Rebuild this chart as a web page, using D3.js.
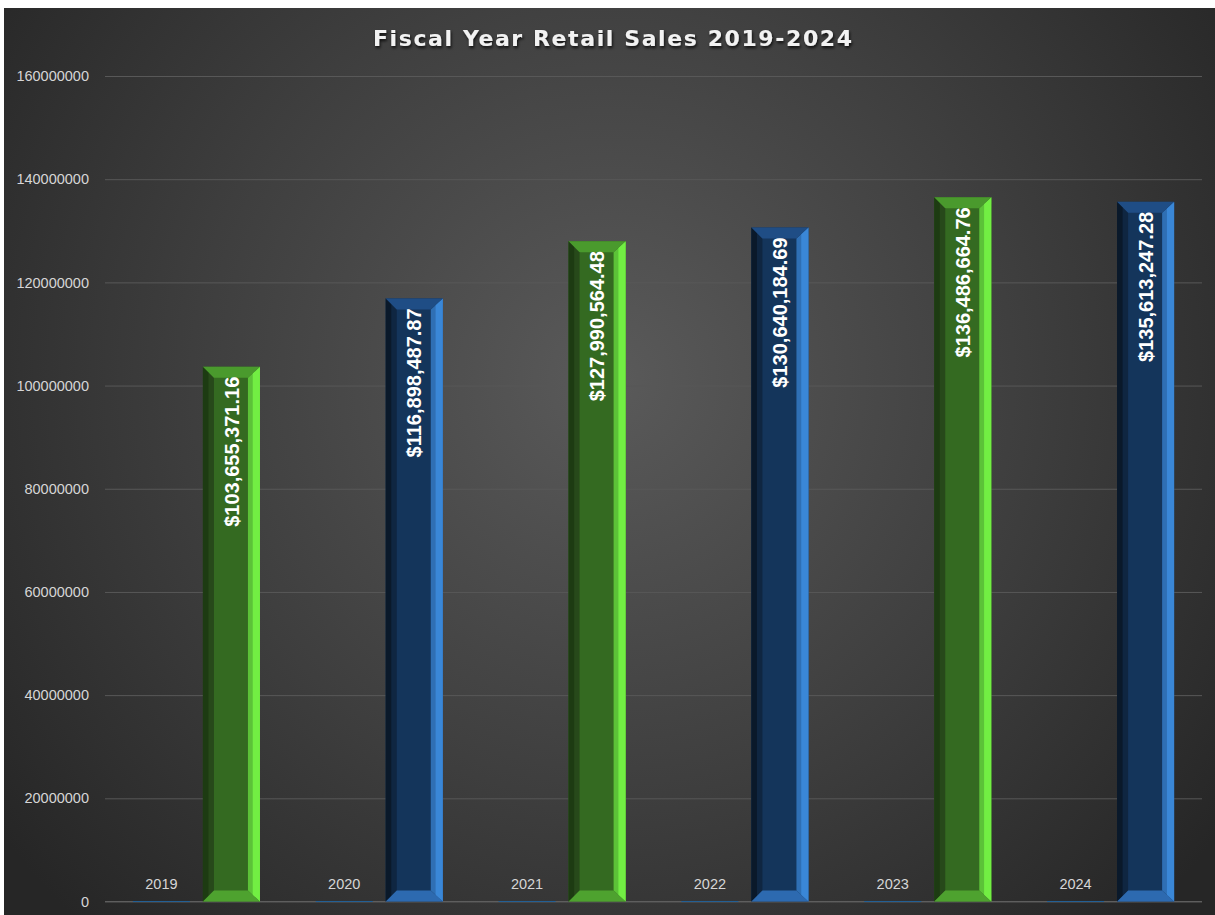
<!DOCTYPE html>
<html>
<head>
<meta charset="utf-8">
<script src="https://cdn.jsdelivr.net/npm/d3@7"></script>
<style>
  html, body { margin: 0; padding: 0; background: #fff; }
  svg { display: block; }
</style>
</head>
<body>
<svg id="chart"></svg>
<script>
const years = ["2019", "2020", "2021", "2022", "2023", "2024"];
const yearValues = [2019, 2020, 2021, 2022, 2023, 2024];
const salesValues = [103655371.16, 116898487.87, 127990564.48, 130640184.69, 136486664.76, 135613247.28];
const yTicks = [0, 20000000, 40000000, 60000000, 80000000, 100000000, 120000000, 140000000, 160000000];
const titleText = "Fiscal Year Retail Sales 2019-2024";

const width = 1215, height = 915;
const margin = { top: 76, right: 13, bottom: 13, left: 105 };
const font = "'Liberation Sans', Arial, Helvetica, sans-serif";

const palettes = {
  green: { face: "#346a21", left: "#1d3b12", leftIn: "#27491a", right: "#72ee43", rightIn: "#5cc238", top: "#4a9a2d", bottom: "#4ea22f" },
  blue:  { face: "#14355b", left: "#0a192a", leftIn: "#0f2641", right: "#3a87d7", rightIn: "#2f6fb4", top: "#1f4d85", bottom: "#2d6ab0" }
};
const barColor = ["green", "blue", "green", "blue", "green", "blue"];

const svg = d3.select("#chart").attr("width", width).attr("height", height);
const defs = svg.append("defs");

const bg = defs.append("radialGradient").attr("id", "bg")
  .attr("gradientUnits", "userSpaceOnUse")
  .attr("cx", 610).attr("cy", 380).attr("r", 760);
bg.append("stop").attr("offset", "0%").attr("stop-color", "#5a5a5a");
bg.append("stop").attr("offset", "55%").attr("stop-color", "#3e3e3e");
bg.append("stop").attr("offset", "100%").attr("stop-color", "#262626");

const shadow = defs.append("filter").attr("id", "tshadow")
  .attr("x", "-10%").attr("y", "-50%").attr("width", "120%").attr("height", "200%");
shadow.append("feDropShadow").attr("dx", 1).attr("dy", 2).attr("stdDeviation", 1.5)
  .attr("flood-color", "#000").attr("flood-opacity", 0.8);

svg.append("rect").attr("x", 4).attr("y", 8)
  .attr("width", width - 4).attr("height", height - 8)
  .attr("fill", "url(#bg)");

const x0 = d3.scaleBand().domain(years)
  .range([margin.left, width - margin.right])
  .paddingInner(0.305).paddingOuter(0.1525);
const x1 = d3.scaleBand().domain(["year", "sales"])
  .range([0, x0.bandwidth()]).paddingInner(0.186).paddingOuter(0);
const y = d3.scaleLinear().domain([0, 160000000]).range([height - margin.bottom - 0.5, margin.top]);

// gridlines + tick labels
const yAxis = svg.append("g")
  .attr("transform", `translate(${margin.left},0)`)
  .call(d3.axisLeft(y).tickValues(yTicks).tickFormat(d3.format("d"))
    .tickSize(-(width - margin.left - margin.right)).tickPadding(16));
yAxis.select(".domain").remove();
yAxis.selectAll(".tick line").attr("stroke", "#585858").attr("stroke-width", 1);
yAxis.selectAll(".tick text")
  .attr("fill", "#d6d6d6")
  .style("font", `14.5px ${font}`);

// baseline
svg.append("line")
  .attr("x1", margin.left).attr("x2", width - margin.right)
  .attr("y1", y(0)).attr("y2", y(0))
  .attr("stroke", "#5e5e5e").attr("stroke-width", 1.2);

// year series (tiny bars near zero)
const yearG = svg.append("g");
yearG.selectAll("rect")
  .data(years.map((k, i) => ({ key: k, value: yearValues[i] })))
  .join("rect")
  .attr("x", d => x0(d.key) + x1("year"))
  .attr("y", d => y(d.value) - 0.5)
  .attr("width", x1.bandwidth())
  .attr("height", d => y(0) - y(d.value) + 1)
  .attr("fill", "#235f94");
yearG.selectAll("text")
  .data(years.map((k, i) => ({ key: k, value: yearValues[i] })))
  .join("text")
  .attr("x", d => x0(d.key) + x1("year") + x1.bandwidth() / 2)
  .attr("y", d => y(d.value) - 12)
  .attr("text-anchor", "middle")
  .attr("fill", "#d6d6d6")
  .style("font", `14.5px ${font}`)
  .text(d => d.value);

// sales series as bevelled bars
const bev = 11;
const salesData = years.map((k, i) => ({ key: k, value: salesValues[i], pal: palettes[barColor[i]] }));
const barG = svg.append("g").selectAll("g")
  .data(salesData)
  .join("g");

const poly = pts => "M" + pts.map(p => p.join(",")).join("L") + "Z";
barG.each(function (d) {
  const g = d3.select(this);
  const bx = x0(d.key) + x1("sales");
  const bw = x1.bandwidth();
  const top = y(d.value), bot = y(0);
  const L = bx, R = bx + bw, bL = 11, bR = 12;
  const p = d.pal;
  g.append("rect").attr("x", L).attr("y", top).attr("width", bw).attr("height", bot - top).attr("fill", p.face);
  // left side
  g.append("path").attr("fill", p.leftIn)
    .attr("d", poly([[L, top], [L + bL, top + bev], [L + bL, bot - bev], [L, bot]]));
  g.append("path").attr("fill", p.left)
    .attr("d", poly([[L, top], [L + bL * 0.5, top + bev * 0.5], [L + bL * 0.5, bot - bev * 0.5], [L, bot]]));
  // right side
  g.append("path").attr("fill", p.rightIn)
    .attr("d", poly([[R, top], [R - bR, top + bev], [R - bR, bot - bev], [R, bot]]));
  g.append("path").attr("fill", p.right)
    .attr("d", poly([[R, top], [R - bR * 0.6, top + bev * 0.6], [R - bR * 0.6, bot - bev * 0.6], [R, bot]]));
  // top and bottom
  g.append("path").attr("fill", p.top)
    .attr("d", poly([[L, top], [R, top], [R - bR, top + bev], [L + bL, top + bev]]));
  g.append("path").attr("fill", p.bottom)
    .attr("d", poly([[L, bot], [R, bot], [R - bR, bot - bev], [L + bL, bot - bev]]));
});

// data labels
barG.append("text")
  .attr("transform", d => `translate(${x0(d.key) + x1("sales") + x1.bandwidth() / 2},${y(d.value) + 10}) rotate(-90)`)
  .attr("text-anchor", "end")
  .attr("dy", "0.36em")
  .attr("fill", "#ffffff")
  .style("font", `bold 20px ${font}`)
  .text(d => "$" + d3.format(",.2f")(d.value));

// title
svg.append("text")
  .attr("x", 373).attr("y", 46)
  .attr("textLength", 479).attr("lengthAdjust", "spacing")
  .attr("fill", "#f2f2f2")
  .attr("filter", "url(#tshadow)")
  .style("font", "bold 22px 'DejaVu Sans', sans-serif")
  .text(titleText);
</script>
</body>
</html>
